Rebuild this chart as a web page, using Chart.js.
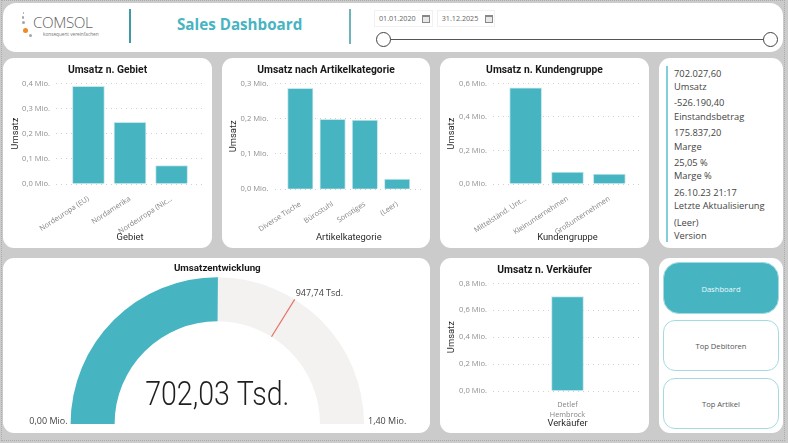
<!DOCTYPE html>
<html lang="de">
<head>
<meta charset="utf-8">
<title>Sales Dashboard</title>
<script src="https://cdn.jsdelivr.net/npm/chart.js@4"></script>
<style>
  html, body { margin: 0; padding: 0; }
  body { width: 788px; height: 443px; background: #cbcbcb; position: relative; overflow: hidden; font-family: "Open Sans", sans-serif; }
  .panel { position: absolute; background: #fff; border-radius: 11px; }
  .panel canvas { position: absolute; left: 0; top: 0; display: block; }
  .abs { position: absolute; white-space: nowrap; }
  .sep { position: absolute; width: 2px; background: #3f9aa6; }
  .date { position: absolute; top: 10px; height: 17px; width: 58.5px; border: 1px solid #f1f1f1; box-sizing: border-box; font-size: 7.2px; line-height: 15px; color: #666; padding-left: 4px; }
  .date i { position: absolute; right: 1.5px; top: 3.5px; width: 6px; height: 5px; border: 1px solid #888; border-top-width: 2px; background: #e8e8e8; }
  .knob { position: absolute; top: 31.5px; width: 15px; height: 15px; box-sizing: border-box; border: 1.5px solid #444; border-radius: 50%; background: #fff; }
  .dot { position: absolute; border-radius: 50%; background: #a5a5a5; }
  .info { position: absolute; left: 15px; font-size: 9.3px; line-height: 13px; color: #444; white-space: nowrap; }
  .btn { position: absolute; left: 4px; width: 116px; box-sizing: border-box; border: 1px solid #a4dbe2; border-radius: 12px; text-align: center; font-size: 7.6px; color: #555; }
</style>
</head>
<body>
<div class="abs" style="left:1px;top:0;width:784px;height:441px;box-sizing:border-box;border:1px dotted #ababab"></div>
<div class="panel" style="left:3px;top:3px;width:780px;height:49px;border-radius:13px"></div>
<div class="dot" style="left:22.5px;top:12px;width:1.5px;height:2px"></div>
<div class="dot" style="left:22px;top:16px;width:2px;height:2.5px"></div>
<div class="dot" style="left:21.5px;top:21px;width:3px;height:3px"></div>
<div class="dot" style="left:22.5px;top:27.5px;width:5px;height:5px;background:#f08a24"></div>
<div class="dot" style="left:28.5px;top:33.5px;width:3px;height:3px"></div>
<div class="abs" style="left:33px;top:11px;font-size:15.2px;line-height:22px;font-weight:300;color:#5f5f5f;letter-spacing:-.4px">COMSOL</div>
<div class="abs" style="left:43px;top:31px;font-size:4.7px;line-height:6px;color:#777">konsequent vereinfachen</div>
<div class="sep" style="left:128.5px;top:9px;height:34px"></div>
<div class="abs" style="left:177px;top:13px;font-size:15.2px;line-height:22px;font-weight:700;color:#47b4c2">Sales Dashboard</div>
<div class="sep" style="left:348.5px;top:9px;height:35px;background:#6fb3bb"></div>
<div class="date" style="left:374px">01.01.2020<i></i></div>
<div class="date" style="left:436.7px">31.12.2025<i></i></div>
<div class="abs" style="left:383px;top:38.5px;width:387px;height:1.5px;background:#555"></div>
<div class="knob" style="left:375.5px"></div>
<div class="knob" style="left:762.5px"></div>

<div class="panel" style="left:3px;top:58px;width:209px;height:190px"><canvas id="gebiet" width="209" height="190"></canvas></div>
<div class="panel" style="left:221.5px;top:58px;width:208.5px;height:190px"><canvas id="kategorie" width="208" height="190"></canvas></div>
<div class="panel" style="left:440px;top:58px;width:209px;height:190px"><canvas id="kunden" width="209" height="190"></canvas></div>
<div class="panel" id="info" style="left:659px;top:58px;width:124px;height:190px">
  <div class="abs" style="left:7px;top:7.7px;width:1.5px;height:176px;background:#7fd0da"></div>
</div>
<div class="panel" style="left:3px;top:258px;width:427px;height:175px"><canvas id="gauge" width="427" height="175"></canvas></div>
<div class="panel" style="left:440px;top:258px;width:209px;height:175px"><canvas id="verkaeufer" width="209" height="175"></canvas></div>
<div class="panel" style="left:659px;top:258px;width:124px;height:175px">
  <div class="btn" style="top:4px;height:52px;line-height:52px;background:#47b4c2;color:#eafafc;border-radius:16px">Dashboard</div>
  <div class="btn" style="top:62px;height:51px;line-height:51px">Top Debitoren</div>
  <div class="btn" style="top:120px;height:51px;line-height:51px">Top Artikel</div>
</div>

<script>
const gebietLabels = ["Nordeuropa (EU)", "Nordamerika", "Nordeuropa (Nic..."];
const gebietValues = [0.388, 0.245, 0.073];
const kategorieLabels = ["Diverse Tische", "Bürostuhl", "Sonstiges", "(Leer)"];
const kategorieValues = [0.286, 0.198, 0.196, 0.029];
const kundenLabels = ["Mittelständ. Unt...", "Kleinunternehmen", "Großunternehmen"];
const kundenValues = [0.574, 0.0715, 0.0596];
const verkaeuferLabels = [["Detlef", "Hembrock"]];
const verkaeuferValues = [0.702];

const gaugeValue = 702027.6;
const gaugeMax = 1400000;
const gaugeTarget = 947740;
const gaugeTexts = ["702,03 Tsd.", "947,74 Tsd.", "0,00 Mio.", "1,40 Mio."];

const infoLabels = ["Umsatz", "Einstandsbetrag", "Marge", "Marge %", "Letzte Aktualisierung", "Version"];
const infoValues = ["702.027,60", "-526.190,40", "175.837,20", "25,05 %", "26.10.23 21:17", "(Leer)"];

const TEAL = "#47b4c2";
const FONT = '"Open Sans", sans-serif';

Chart.defaults.animation = false;
Chart.defaults.responsive = false;
Chart.defaults.plugins.legend.display = false;
Chart.defaults.plugins.tooltip.enabled = false;

function barChart(id, cfg) {
  const points = cfg.values.map((v, i) => ({ x: i, y: v }));
  return new Chart(document.getElementById(id), {
    type: "bar",
    data: {
      datasets: [{
        data: points,
        backgroundColor: TEAL,
        borderColor: "#c6e8ec",
        borderWidth: 1,
        barThickness: cfg.barWidth
      }]
    },
    options: {
      // same inset both sides so the chart title stays centred on the card
      layout: { padding: { left: cfg.inset, right: cfg.inset } },
      plugins: {
        title: {
          display: true,
          text: cfg.title,
          color: "#1a1a1a",
          font: { family: "Roboto", size: 10.3, weight: "bold" },
          padding: { top: 6, bottom: 7 }
        }
      },
      scales: {
        x: {
          type: "linear",
          offset: false,
          min: cfg.xMin,
          max: cfg.xMax,
          grid: { display: false },
          border: { display: false },
          afterBuildTicks: s => { s.ticks = cfg.labels.map((_, i) => ({ value: i })); },
          afterFit: s => { s.height = cfg.xHeight; },
          ticks: {
            autoSkip: false,
            minRotation: cfg.rotation,
            maxRotation: cfg.rotation,
            padding: cfg.tickPad,
            color: "#858585",
            font: { family: FONT, size: 7.3, lineHeight: 1.35 },
            callback: v => cfg.labels[v]
          },
          title: {
            display: true,
            text: cfg.xTitle,
            color: "#2b2b2b",
            font: { family: "Roboto", size: 9.4 },
            padding: { top: 0, bottom: cfg.xTitlePad }
          }
        },
        y: {
          min: 0,
          max: cfg.yMax,
          grid: { color: "#cfcfcf", drawTicks: false, lineWidth: 1 },
          border: { display: false, dash: [1, 4] },
          afterFit: s => { s.width = cfg.yWidth - cfg.inset; },
          ticks: {
            stepSize: cfg.yStep,
            padding: 6,
            color: "#8f8f8f",
            font: { family: FONT, size: 7.6 },
            callback: v => v.toFixed(1).replace(".", ",") + " Mio."
          },
          title: {
            display: true,
            text: "Umsatz",
            color: "#2b2b2b",
            font: { family: "Roboto", size: 9.4 },
            padding: { top: -1, bottom: 0 }
          }
        }
      }
    }
  });
}

barChart("gebiet", {
  title: "Umsatz n. Gebiet", xTitle: "Gebiet", labels: gebietLabels, values: gebietValues,
  yMax: 0.4, yStep: 0.1, xMin: -0.78, xMax: 2.78, barWidth: 32, rotation: 33, tickPad: 2,
  yWidth: 53, xHeight: 64, inset: 8, xTitlePad: 4.5
});
barChart("kategorie", {
  title: "Umsatz nach Artikelkategorie", xTitle: "Artikelkategorie", labels: kategorieLabels, values: kategorieValues,
  yMax: 0.3, yStep: 0.1, xMin: -0.8, xMax: 3.8, barWidth: 25.5, rotation: 33, tickPad: 2,
  yWidth: 52.5, xHeight: 58.7, inset: 7, xTitlePad: 4.5
});
barChart("kunden", {
  title: "Umsatz n. Kundengruppe", xTitle: "Kundengruppe", labels: kundenLabels, values: kundenValues,
  yMax: 0.6, yStep: 0.2, xMin: -0.78, xMax: 2.78, barWidth: 32, rotation: 33, tickPad: 2,
  yWidth: 53, xHeight: 64, inset: 7, xTitlePad: 4.5
});
barChart("verkaeufer", {
  title: "Umsatz n. Verkäufer", xTitle: "Verkäufer", labels: verkaeuferLabels, values: verkaeuferValues,
  yMax: 0.8, yStep: 0.2, xMin: -1, xMax: 1, barWidth: 32, rotation: 0, tickPad: 1,
  yWidth: 53, xHeight: 42, inset: 7, xTitlePad: 4
});

// target tick and the texts around the half ring
const gaugeOverlay = {
  id: "gaugeOverlay",
  afterDatasetsDraw(chart) {
    const arc = chart.getDatasetMeta(0).data[0];
    const { ctx } = chart;
    const a = Math.PI * (1 - gaugeTarget / gaugeMax);
    ctx.save();
    ctx.strokeStyle = "#e57368";
    ctx.lineWidth = 1.2;
    ctx.beginPath();
    ctx.moveTo(arc.x + Math.cos(a) * arc.innerRadius, arc.y - Math.sin(a) * arc.innerRadius);
    ctx.lineTo(arc.x + Math.cos(a) * arc.outerRadius, arc.y - Math.sin(a) * arc.outerRadius);
    ctx.stroke();

    ctx.save();
    ctx.translate(arc.x, arc.y - 27);
    ctx.scale(0.84, 1);
    ctx.textBaseline = "middle";
    ctx.fillStyle = "#1f1f1f";
    ctx.textAlign = "center";
    ctx.font = '300 34px Roboto';
    ctx.fillText(gaugeTexts[0], 0, 0);
    ctx.restore();

    ctx.textBaseline = "middle";
    ctx.fillStyle = "#444";
    ctx.font = '9px ' + FONT;
    ctx.textAlign = "left";
    ctx.fillText(gaugeTexts[1], arc.x + Math.cos(a) * arc.outerRadius + 1, arc.y - Math.sin(a) * arc.outerRadius - 6);
    ctx.textAlign = "right";
    ctx.fillText(gaugeTexts[2], arc.x - arc.outerRadius - 3, arc.y - 3);
    ctx.textAlign = "left";
    ctx.fillText(gaugeTexts[3], arc.x + arc.outerRadius + 4, arc.y - 3);
    ctx.restore();
  }
};

new Chart(document.getElementById("gauge"), {
  type: "doughnut",
  data: {
    datasets: [{
      data: [gaugeValue, gaugeMax - gaugeValue],
      backgroundColor: [TEAL, "#f3f2f1"],
      borderWidth: 0
    }]
  },
  options: {
    rotation: -90,
    circumference: 180,
    cutout: "70%",
    layout: { padding: { left: 67.6, right: 66, top: 0, bottom: 9 } },
    plugins: {
      title: {
        display: true,
        text: "Umsatzentwicklung",
        color: "#1a1a1a",
        font: { family: "Roboto", size: 9.8, weight: "bold" },
        padding: { top: 5, bottom: 2.5 }
      }
    }
  },
  plugins: [gaugeOverlay]
});

// info card rows
const infoBox = document.getElementById("info");
const valueTops = [8.5, 38.2, 68.2, 98.2, 127.8, 158.2];
const labelTops = [21.5, 51.5, 81.5, 110.8, 141.2, 170.8];
infoValues.forEach((v, i) => {
  for (const [text, top] of [[v, valueTops[i]], [infoLabels[i], labelTops[i]]]) {
    const row = document.createElement("div");
    row.className = "info";
    row.style.top = top + "px";
    row.textContent = text;
    infoBox.appendChild(row);
  }
});
</script>
</body>
</html>
